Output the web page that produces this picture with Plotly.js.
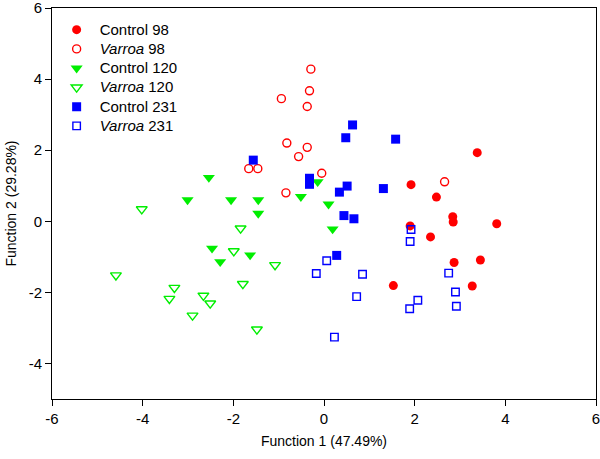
<!DOCTYPE html>
<html>
<head>
<meta charset="utf-8">
<script src="https://cdn.plot.ly/plotly-3.0.1.min.js"></script>
<style>html,body{margin:0;padding:0;background:#fff;}#chart{width:600px;height:459px;}</style>
</head>
<body>
<div id="chart"></div>
<script>
// Control 98
const c98x = [3.38, 1.92, 2.48, 2.84, 2.85, 3.81, 1.90, 2.35, 3.45, 2.87, 3.27, 1.53];
const c98y = [1.93, 1.03, 0.68, 0.13, -0.02, -0.07, -0.13, -0.44, -1.09, -1.16, -1.82, -1.81];
// Varroa 98
const v98x = [-0.29, -0.32, -0.94, -0.37, -0.82, -0.37, -0.56, -1.66, -1.46, -0.05, -0.84, 2.66];
const v98y = [4.28, 3.67, 3.45, 3.23, 2.20, 2.08, 1.82, 1.48, 1.48, 1.35, 0.80, 1.11];
// Control 120
const c120x = [-2.54, -3.01, -2.05, -1.45, -1.45, -2.47, -2.29, -1.63, 0.10, 0.19, -0.51, -0.14];
const c120y = [1.23, 0.60, 0.60, 0.60, 0.22, -0.76, -1.14, -0.95, 0.48, -0.22, 0.69, 1.11];
// Varroa 120
const v120x = [-4.02, -1.84, -1.99, -4.59, -1.79, -3.30, -3.41, -2.66, -2.51, -2.90, -1.48, -1.08];
const v120y = [0.34, -0.20, -0.84, -1.52, -1.76, -1.87, -2.18, -2.09, -2.31, -2.65, -3.04, -1.23];
// Control 231
const c231x = [0.63, 0.48, 1.58, -1.56, -0.32, -0.32, 0.51, 0.34, 1.31, 0.44, 0.66, 0.28];
const c231y = [2.71, 2.35, 2.31, 1.72, 1.21, 1.04, 0.99, 0.82, 0.92, 0.16, 0.07, -0.96];
// Varroa 231
const v231x = [1.92, 1.90, 0.85, 0.72, 2.75, 2.90, 2.92, 2.07, 1.89, 0.06, -0.17, 0.23];
const v231y = [-0.23, -0.57, -1.49, -2.12, -1.46, -1.99, -2.39, -2.22, -2.46, -1.11, -1.47, -3.26];

const seriesNames = ['Control 98', '<i>Varroa</i> 98', 'Control 120', '<i>Varroa</i> 120', 'Control 231', '<i>Varroa</i> 231'];
const xTicks = [-6, -4, -2, 0, 2, 4, 6];
const yTicks = [-4, -2, 0, 2, 4, 6];

function tr(name, x, y, symbol, color, size, open) {
  return {
    type: 'scatter', mode: 'markers',
    name: '<span style="font-size:15px">' + name + '</span>',
    x: x, y: y,
    marker: {
      symbol: symbol, size: size, color: color,
      line: {color: color, width: open ? 1.4 : 0}
    }
  };
}

const data = [
  tr(seriesNames[0], c98x, c98y, 'circle', '#ff0000', 9, false),
  tr(seriesNames[1], v98x, v98y, 'circle-open', '#ff0000', 8, true),
  tr(seriesNames[2], c120x, c120y, 'triangle-down', '#00ee00', 10.5, false),
  tr(seriesNames[3], v120x, v120y, 'triangle-down-open', '#00ee00', 9.5, true),
  tr(seriesNames[4], c231x, c231y, 'square', '#0000ff', 9, false),
  tr(seriesNames[5], v231x, v231y, 'square-open', '#0000ff', 7.5, true)
];

const font = {family: 'Liberation Sans, Arial, sans-serif', color: '#000'};

const layout = {
  width: 600, height: 459,
  margin: {l: 52, r: 4, t: 8, b: 60},
  paper_bgcolor: '#fff', plot_bgcolor: '#fff',
  font: Object.assign({size: 15}, font),
  showlegend: true,
  legend: {
    x: 0.003, y: 0.982, xanchor: 'left', yanchor: 'top',
    bgcolor: 'rgba(0,0,0,0)', borderwidth: 0,
    font: Object.assign({size: 12.5}, font),
    tracegroupgap: 0, itemwidth: 36
  },
  xaxis: {
    range: [-6, 6], tickvals: xTicks, ticktext: xTicks.map(String),
    showgrid: false, zeroline: false, showline: true, linecolor: '#000', linewidth: 1,
    mirror: true, ticks: 'outside', ticklen: 6, tickcolor: '#000',
    ticklabeloverflow: 'allow',
    tickfont: Object.assign({size: 15}, font),
    title: {text: 'Function 1 (47.49%)', font: Object.assign({size: 14}, font), standoff: 10}
  },
  yaxis: {
    range: [-5, 6], tickvals: yTicks, ticktext: yTicks.map(String),
    showgrid: false, zeroline: false, showline: true, linecolor: '#000', linewidth: 1,
    mirror: true, ticks: 'outside', ticklen: 6, tickcolor: '#000',
    ticklabeloverflow: 'allow',
    tickfont: Object.assign({size: 15}, font),
    title: {text: 'Function 2 (29.28%)', font: Object.assign({size: 14}, font), standoff: 8}
  }
};

Plotly.newPlot('chart', data, layout, {displayModeBar: false, staticPlot: true});
</script>
</body>
</html>
